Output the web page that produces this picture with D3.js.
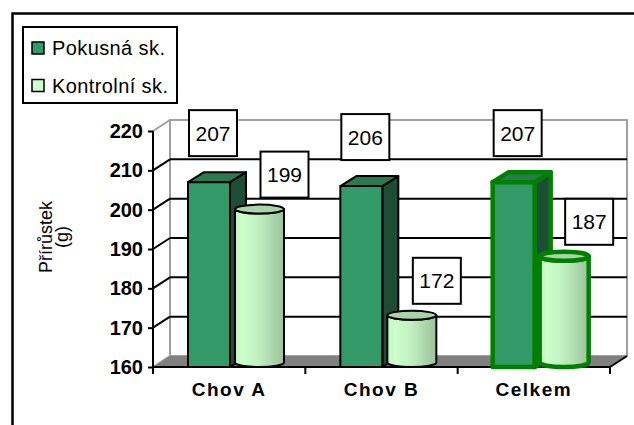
<!DOCTYPE html>
<html>
<head>
<meta charset="utf-8">
<script src="https://cdn.jsdelivr.net/npm/d3@7"></script>
<style>
  body { margin: 0; background: #fff; }
  svg { display: block; font-family: Arial, "Liberation Sans", sans-serif; }
</style>
</head>
<body>
<svg id="chart" width="634" height="425"></svg>
<script>
// Přírůstek hmotnosti podle chovu
const categories = ["Chov A", "Chov B", "Celkem"];
const pokusna = [207, 206, 207];
const kontrolni = [199, 172, 187];
const yTicks = [160, 170, 180, 190, 200, 210, 220];
const seriesNames = ["Pokusná sk.", "Kontrolní sk."];
const highlighted = ["Celkem"];

const svg = d3.select("#chart");

const x = d3.scaleBand().domain(categories).range([153, 610]).padding(0);
const y = d3.scaleLinear().domain([160, 220]).range([367, 131]);

const DX = 17, DY = -11;   // depth of the walls
const BDX = 16, BDY = -10; // depth of the boxes
const y0 = y(160);
const xL = x.range()[0], xR = x.range()[1];

// gradient for the cylinders
const defs = svg.append("defs");
const grad = defs.append("linearGradient").attr("id", "cyl").attr("x1", 0).attr("x2", 1).attr("y1", 0).attr("y2", 0);
[[0, "#c2f0c2"], [0.15, "#ccffcc"], [0.4, "#c4f4c4"], [0.6, "#b8e6b8"], [0.8, "#a8d2a8"], [1, "#9cc49c"]]
  .forEach(([o, c]) => grad.append("stop").attr("offset", o).attr("stop-color", c));

// outer frame
svg.append("path").attr("d", "M12.5,430 V13.5 H640").attr("fill", "none").attr("stroke", "#000").attr("stroke-width", 2.5);

// back wall
svg.append("rect")
  .attr("x", xL + DX).attr("y", y(220) + DY)
  .attr("width", xR - xL).attr("height", y0 - y(220))
  .attr("fill", "#fff").attr("stroke", "#a0a0a0").attr("stroke-width", 2);

// grid lines on back wall and side wall
yTicks.forEach(t => {
  const col = (t === 220 || t === 160) ? "#a0a0a0" : "#000";
  if (t !== 160) {
    svg.append("line")
      .attr("x1", xL + DX).attr("x2", xR + DX)
      .attr("y1", y(t) + DY).attr("y2", y(t) + DY)
      .attr("stroke", col).attr("stroke-width", 2);
  }
  svg.append("line")
    .attr("x1", xL).attr("y1", y(t))
    .attr("x2", xL + DX).attr("y2", y(t) + DY)
    .attr("stroke", col).attr("stroke-width", 2);
});

// floor
svg.append("polygon")
  .attr("points", [[xL, y0], [xR, y0], [xR + DX, y0 + DY], [xL + DX, y0 + DY]].map(p => p.join(",")).join(" "))
  .attr("fill", "#808080");
svg.append("path")
  .attr("d", `M${xL},${y0} H${xR} L${xR + DX},${y0 + DY}`)
  .attr("fill", "none").attr("stroke", "#000").attr("stroke-width", 2);

// bars
const boxW = 42, cylW = 49;
categories.forEach((c, i) => {
  const hi = highlighted.includes(c);
  const stroke = hi ? "#008000" : "#000";
  const sw = hi ? 4.5 : 2;

  // Pokusná sk. – box
  const bx = x(c) + 35;
  const yt = y(pokusna[i]);
  const g = svg.append("g").attr("stroke", stroke).attr("stroke-width", sw).attr("stroke-linejoin", "round");
  g.append("polygon")
    .attr("points", [[bx + boxW, yt], [bx + boxW + BDX, yt + BDY], [bx + boxW + BDX, y0 + BDY], [bx + boxW, y0]].map(p => p.join(",")).join(" "))
    .attr("fill", "#1e4d35");
  g.append("polygon")
    .attr("points", [[bx, yt], [bx + boxW, yt], [bx + boxW + BDX, yt + BDY], [bx + BDX, yt + BDY]].map(p => p.join(",")).join(" "))
    .attr("fill", "#2a7a50");
  g.append("rect").attr("x", bx).attr("y", yt).attr("width", boxW).attr("height", y0 - yt).attr("fill", "#339966");

  // Kontrolní sk. – cylinder
  const cl = x(c) + 82, cr = cl + cylW, cx = (cl + cr) / 2;
  const rx = cylW / 2, ry = 4.5;
  const ytc = y(kontrolni[i]) - ry, ybc = y0 - ry;
  const gc = svg.append("g").attr("stroke", stroke).attr("stroke-width", sw).attr("stroke-linejoin", "round");
  gc.append("path")
    .attr("d", `M${cl},${ytc} L${cl},${ybc} A${rx},${ry} 0 0 0 ${cr},${ybc} L${cr},${ytc} A${rx},${ry} 0 0 1 ${cl},${ytc} Z`)
    .attr("fill", "url(#cyl)");
  gc.append("ellipse").attr("cx", cx).attr("cy", ytc).attr("rx", rx).attr("ry", ry).attr("fill", "#a9d4a9");
});

// value labels
const labW = 48, labH = 46;
function label(cx, cy, v) {
  svg.append("rect")
    .attr("x", cx - labW / 2).attr("y", cy - labH / 2)
    .attr("width", labW).attr("height", labH)
    .attr("fill", "#fff").attr("stroke", "#000").attr("stroke-width", 2);
  svg.append("text")
    .attr("x", cx).attr("y", cy).attr("dy", "0.36em")
    .attr("text-anchor", "middle").attr("font-size", 21).attr("fill", "#000")
    .text(v);
}
categories.forEach((c, i) => {
  label(x(c) + 35 + boxW / 2 + 4, y(pokusna[i]) - 49, pokusna[i]);
  label(x(c) + 82 + cylW / 2 + 25, y(kontrolni[i]) - 39, kontrolni[i]);
});

// y axis
const yAxis = svg.append("g").attr("transform", `translate(${xL},0)`)
  .call(d3.axisLeft(y).tickValues(yTicks).tickSize(5).tickSizeOuter(0).tickPadding(5).tickFormat(d3.format("d")));
yAxis.select(".domain").remove();
yAxis.selectAll(".tick line").attr("stroke", "#000").attr("stroke-width", 2);
yAxis.selectAll("text").attr("font-size", 20).attr("font-weight", "bold").attr("fill", "#000")
  .attr("font-family", "Arial, 'Liberation Sans', sans-serif");
svg.append("line").attr("x1", xL).attr("x2", xL).attr("y1", y(220)).attr("y2", y0 + 7)
  .attr("stroke", "#000").attr("stroke-width", 2);

// x axis
const xAxis = svg.append("g").attr("transform", `translate(0,${y0})`)
  .call(d3.axisBottom(x).tickSize(0).tickPadding(16));
xAxis.select(".domain").remove();
xAxis.selectAll("text").attr("font-size", 19).attr("font-weight", "bold").attr("fill", "#000")
  .attr("letter-spacing", 1.5).attr("font-family", "Arial, 'Liberation Sans', sans-serif");
categories.map(c => x(c)).concat([xR]).forEach(px => {
  svg.append("line").attr("x1", px).attr("x2", px).attr("y1", y0).attr("y2", y0 + 7)
    .attr("stroke", "#000").attr("stroke-width", 2);
});

// y axis title
svg.append("text").attr("transform", "translate(52,237) rotate(-90)")
  .attr("text-anchor", "middle").attr("font-size", 18).text("Přírůstek");
svg.append("text").attr("transform", "translate(68,237) rotate(-90)")
  .attr("text-anchor", "middle").attr("font-size", 18).text("(g)");

// legend
const lg = svg.append("g");
lg.append("rect").attr("x", 23).attr("y", 27).attr("width", 154).attr("height", 76)
  .attr("fill", "#fff").attr("stroke", "#000").attr("stroke-width", 2);
const swatchFill = ["#339966", "#ccffcc"];
seriesNames.forEach((n, i) => {
  const yy = 42 + i * 37.5;
  lg.append("rect").attr("x", 32).attr("y", yy).attr("width", 12).attr("height", 12)
    .attr("fill", swatchFill[i]).attr("stroke", "#000").attr("stroke-width", 1.5);
  lg.append("text").attr("x", 52).attr("y", yy + 13).attr("font-size", 20)
    .attr("letter-spacing", 0.4).text(n);
});
</script>
</body>
</html>
